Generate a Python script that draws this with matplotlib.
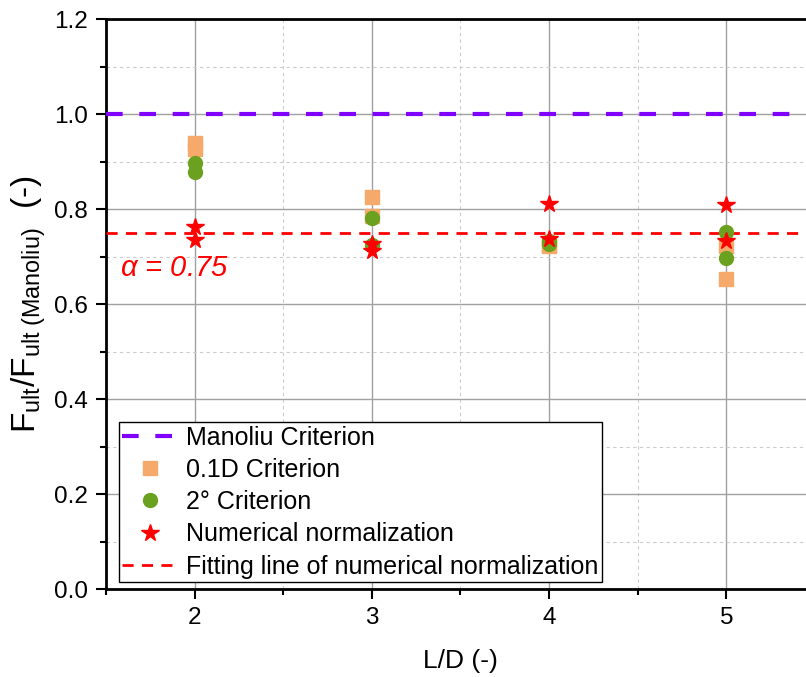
import numpy as np
import matplotlib
matplotlib.use("Agg")
import matplotlib.pyplot as plt
from matplotlib.ticker import MultipleLocator

plt.rcParams['font.family'] = ['Liberation Sans', 'DejaVu Sans']
plt.rcParams['mathtext.fontset'] = 'custom'
plt.rcParams['mathtext.rm'] = 'Liberation Sans'
plt.rcParams['mathtext.it'] = 'Liberation Sans:italic'

# data
ld = [2, 2, 3, 3, 4, 4, 5, 5]
crit_01d = [0.940, 0.928, 0.827, 0.786, 0.722, 0.725, 0.723, 0.653]
crit_2deg = [0.897, 0.879, 0.781, 0.725, 0.733, 0.728, 0.753, 0.697]
numerical = [0.762, 0.736, 0.728, 0.713, 0.811, 0.737, 0.809, 0.733]
manoliu_level = 1.0
alpha_fit = 0.75

fig = plt.figure(figsize=(8.06, 6.77), dpi=100)
ax = fig.add_axes([0.1315, 0.1295, 1.011 - 0.1315, 0.9712 - 0.1295])

ax.axhline(manoliu_level, color='#8000FF', ls=(0, (4, 4)), lw=3, label='Manoliu Criterion', zorder=3)
ax.plot(ld, crit_01d, 's', color='#F5A96B', ms=9.5, ls='none', label='0.1D Criterion', zorder=4)
ax.plot(ld, crit_2deg, 'o', color='#6AA11E', ms=10, ls='none', label='2\u00b0 Criterion', zorder=5)
ax.plot(ld, numerical, '*', color='#FF0000', ms=13, ls='none', label='Numerical normalization', zorder=6)
ax.axhline(alpha_fit, color='#FF0000', ls=(0, (4, 3)), lw=2, label='Fitting line of numerical normalization', zorder=3)

ax.text(1.58, 0.677, r'$\alpha$ = 0.75', color='#FF0000', fontsize=21, style='italic', va='center', ha='left')

ax.set_xlim(1.5, 5.5)
ax.set_ylim(0, 1.2)
ax.xaxis.set_major_locator(MultipleLocator(1))
ax.xaxis.set_minor_locator(MultipleLocator(0.5))
ax.yaxis.set_major_locator(MultipleLocator(0.2))
ax.yaxis.set_minor_locator(MultipleLocator(0.1))
ax.yaxis.set_major_formatter(plt.FuncFormatter(lambda v, p: f'{v:.1f}'))

ax.grid(which='major', color='#A0A0A0', lw=1, ls='-', zorder=0)
ax.grid(which='minor', color='#CCCCCC', lw=0.8, ls=(0, (3, 3)), zorder=0)
ax.set_axisbelow(True)

ax.tick_params(axis='both', which='major', direction='out', length=7, width=1.5, labelsize=17.5, pad=6)
ax.tick_params(axis='both', which='minor', direction='out', length=4, width=1.5)
for s in ['left', 'bottom', 'top']:
    ax.spines[s].set_linewidth(2)
ax.spines['right'].set_visible(False)

ax.set_xlabel('L/D (-)', fontsize=19, labelpad=14)
ax.set_ylabel(r'$\mathregular{F_{ult}/F_{ult\ (Manoliu)}}$  (-)', fontsize=24, labelpad=4)

leg = ax.legend(loc='lower left', bbox_to_anchor=(0.018, 0.012), fontsize=18, frameon=True,
                fancybox=False, edgecolor='black', framealpha=1, borderpad=0.15,
                labelspacing=0.33, handlelength=2.2, handletextpad=0.35, borderaxespad=0)
leg.get_frame().set_linewidth(1)

fig.savefig('out.png', dpi=100)
